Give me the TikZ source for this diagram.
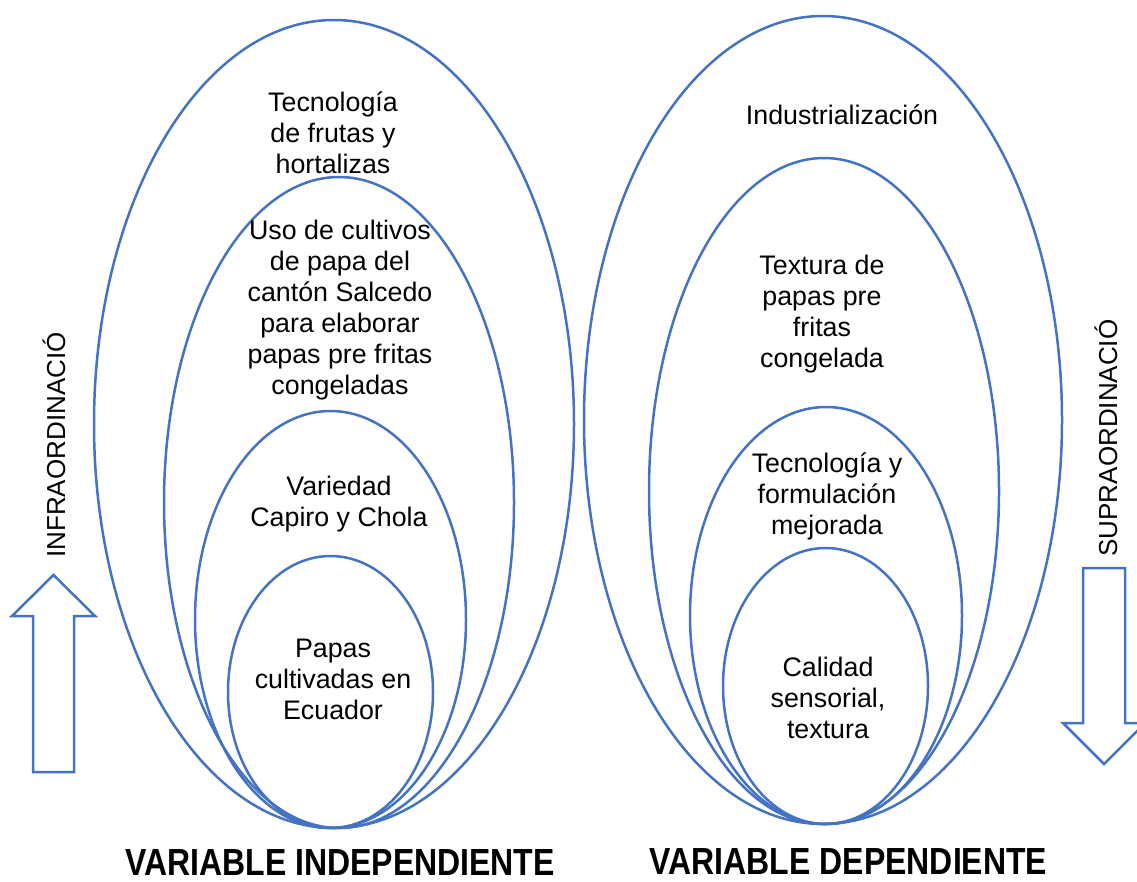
\documentclass[tikz,border=0pt]{standalone}
\usepackage{fontspec}
\setmainfont{Liberation Sans}
\usetikzlibrary{shapes.geometric}
\definecolor{ovalblau}{HTML}{4472C4}
\tikzset{
  oval/.style={ellipse,draw=ovalblau,line width=2.5pt,inner sep=0pt},
  txt/.style={align=center,font=\fontsize{26.8}{31}\selectfont},
  seite/.style={rotate=90,anchor=base,font=\fontsize{26}{31}\selectfont},
  pfeil/.style={draw=ovalblau,line width=2.5pt,line join=miter},
  varlabel/.style={anchor=base,font=\bfseries\fontsize{32}{38}\selectfont}
}

\begin{document}
\begin{tikzpicture}[x=1pt,y=-1pt]
      \useasboundingbox (0,0) rectangle (1137,881);
      % Ellipsen
      \foreach \n/\cx/\cy/\w/\h in {i1/334/424/480/808,i2/339/502.5/350/651,i3/330.5/619.5/271/417,i4/330.5/692/205/272,
                                    d1/823/420/478/808,d2/824/491/350/666,d3/826/615.5/272/417,d4/825.5/686/205/276}
      \node[oval,minimum width=\w pt,minimum height=\h pt] (\n) at (\cx,\cy) {};
      % Texte
      \node[txt] (ti1) at (333,133) {Tecnología\\de frutas y\\hortalizas};
      \node[txt] (ti2) at (340,310) {Uso de cultivos\\de papa del\\cantón Salcedo\\para elaborar\\papas pre fritas\\congeladas};
      \node[txt] (ti3) at (339,504.5) {Variedad\\Capiro y Chola};
      \node[txt] (ti4) at (333,679) {Papas\\cultivadas en\\Ecuador};
      \node[txt] (td1) at (842,115) {Industrialización};
      \node[txt] (td2) at (822,314) {Textura de\\papas pre\\fritas\\congelada};
      \node[txt] (td3) at (827,496) {Tecnología y\\formulación\\mejorada};
      \node[txt] (td4) at (828,698) {Calidad\\sensorial,\\textura};
      % Pfeile
      \draw[pfeil] (33,772) -- (33,616) -- (12,616) -- (53.5,575) -- (95,616) -- (74,616) -- (74,772) -- cycle;
      \draw[pfeil] (1083,568) -- (1083,723) -- (1063,723) -- (1104,764) -- (1145,723) -- (1125,723) -- (1125,568) -- cycle;
      \node[seite] (infra) at (65,445) {INFRAORDINACIÓ};
      \node[seite] (supra) at (1117,438) {SUPRAORDINACIÓ};
      \node[varlabel] (vi) at (340,875) {\scalebox{1}[1.18]{VARIABLE INDEPENDIENTE}};
      \node[varlabel] (vd) at (848.5,874) {\scalebox{1}[1.18]{VARIABLE DEPENDIENTE}};
\end{tikzpicture}
\end{document}
